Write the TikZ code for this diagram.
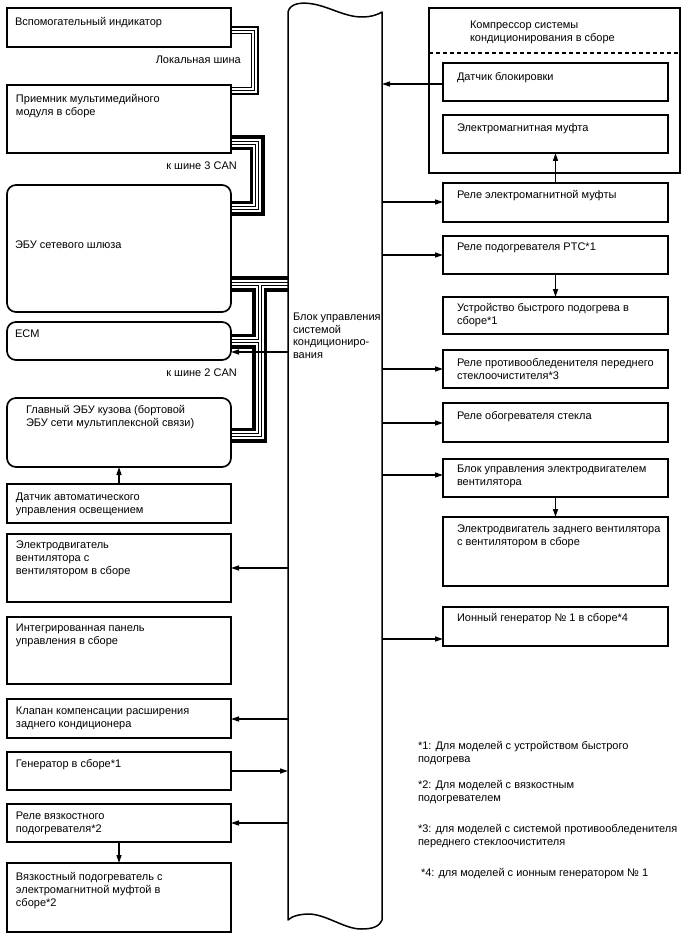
\documentclass[tikz,border=0pt]{standalone}
\usepackage{fontspec}
\setmainfont{Liberation Sans}
\usetikzlibrary{arrows.meta}
\pgfdeclarelayer{bg}
\pgfsetlayers{bg,main}
\tikzset{
  box/.style={draw, line width=1.7pt, rectangle, inner sep=0pt, outer sep=0pt},
  rbox/.style={box, rounded corners=9pt},
  txt/.style={anchor=north west, inner sep=0pt, outer sep=0pt, align=left, font=\fontsize{11}{13}\selectfont},
  lbl/.style={anchor=base east, inner sep=0pt, font=\fontsize{11}{13}\selectfont},
  arr/.style={line width=1.35pt, -{Triangle[length=8pt,width=5pt]}},
  wire/.style={line cap=butt, line join=miter},
}
\newcommand\Bx[6][box]{\node[#1, anchor=north west, minimum width={#4-#2}, minimum height={#5-#3}] (#6) at (#2,#3) {};}
\newcommand\cable[1]{%
  \draw[wire, line width=15pt, black] #1;
  \draw[wire, line width=8pt, white] #1;
  \draw[wire, line width=4pt, black] #1;
  \draw[wire, line width=2pt, white] #1;}
\begin{document}
\begin{tikzpicture}[x=1pt,y=-1pt]
\begin{pgfonlayer}{bg}
\fill[white] (0,0) rectangle (688,949);
\end{pgfonlayer}
\useasboundingbox (0,0) rectangle (688,949);

% ---- left column boxes
\Bx{7}{8}{231}{47}{aux}
\node[txt] (auxt) at (15,17) {Вспомогательный индикатор};
\node[lbl] (lloc) at (241,64) {Локальная шина};
\Bx{7}{85}{231}{153}{mm}
\node[txt] (mmt) at (16,94) {Приемник мультимедийного\\модуля в сборе};
\node[lbl] (lcan3) at (237,170) {к шине 3 CAN};
\Bx[rbox]{7}{185}{231}{312}{gw}
\node[txt] (gwt) at (15,241) {ЭБУ сетевого шлюза};
\Bx[rbox]{7}{322}{231}{360}{ecm}
\node[txt] (ecmt) at (15,330) {ECM};
\node[lbl] (lcan2) at (237,376) {к шине 2 CAN};
\Bx[rbox]{7}{398}{231}{467}{body}
\node[txt] (bodyt) at (26,405) {Главный ЭБУ кузова (бортовой\\ЭБУ сети мультиплексной связи)};
\Bx{7}{484}{231}{523}{light}
\node[txt] (lightt) at (16,493) {Датчик автоматического\\управления освещением};
\Bx{7}{534}{231}{602}{fan}
\node[txt] (fant) at (16,541) {Электродвигатель\\вентилятора с\\вентилятором в сборе};
\Bx{7}{617}{231}{684}{panel}
\node[txt] (panelt) at (16,624) {Интегрированная панель\\управления в сборе};
\Bx{7}{699}{231}{738}{valve}
\node[txt] (valvet) at (16,707) {Клапан компенсации расширения\\заднего кондиционера};
\Bx{7}{752}{231}{790}{gen}
\node[txt] (gent) at (16,759) {Генератор в сборе*1};
\Bx{7}{804}{231}{842}{vrel}
\node[txt] (vrelt) at (16,812) {Реле вязкостного\\подогревателя*2};
\Bx{7}{863}{231}{932}{vheat}
\node[txt] (vheatt) at (16,872) {Вязкостный подогреватель с\\электромагнитной муфтой в\\сборе*2};

% ---- central control unit
\node[inner sep=0pt, outer sep=0pt, anchor=north west, minimum width=94, minimum height=908] (ctrl) at (288,12) {};
\draw[line width=1.5pt, line join=round]
  (ctrl.south west) -- (ctrl.north west)
  .. controls (290,3) and (302,2) .. (313,4)
  .. controls (330,7) and (345,17) .. (362,17)
  .. controls (372,17) and (379,14) .. (ctrl.north east)
  -- (ctrl.south east)
  .. controls (379,927) and (372,929) .. (361,929)
  .. controls (345,929) and (327,915) .. (310,914)
  .. controls (300,914) and (292,916) .. (ctrl.south west) -- cycle;
\node[txt, font=\fontsize{11}{12.5}\selectfont] (ctrlt) at (293,313) {Блок управления\\системой\\кондициониро-\\вания};

% ---- right column
\Bx{429}{8}{680}{173}{comp}
\node[txt] (compt) at (470,21) {Компрессор системы\\кондиционирования в сборе};
\draw[line width=1.5pt, dash pattern=on 4pt off 3pt] (comp.west |- 0,53) -- (comp.east |- 0,53);
\Bx{443}{63}{668}{101}{lock}
\node[txt] (lockt) at (457,72) {Датчик блокировки};
\Bx{443}{115}{668}{153}{clutch}
\node[txt] (clutcht) at (457,124) {Электромагнитная муфта};
\Bx{443}{183}{668}{222}{ra}
\node[txt] (rat) at (457,190) {Реле электромагнитной муфты};
\Bx{443}{236}{668}{274}{rb}
\node[txt] (rbt) at (457,243) {Реле подогревателя PTC*1};
\Bx{443}{297}{668}{334}{rc}
\node[txt] (rct) at (457,303) {Устройство быстрого подогрева в\\сборе*1};
\Bx{443}{350}{668}{388}{rd}
\node[txt] (rdt) at (457,358) {Реле противообледенителя переднего\\стеклоочистителя*3};
\Bx{443}{403}{668}{442}{re}
\node[txt] (ret) at (457,411) {Реле обогревателя стекла};
\Bx{443}{459}{668}{497}{rf}
\node[txt] (rft) at (457,465) {Блок управления электродвигателем\\вентилятора};
\Bx{443}{517}{668}{586}{rg}
\node[txt] (rgt) at (457,525) {Электродвигатель заднего вентилятора\\с вентилятором в сборе};
\Bx{443}{607}{668}{646}{rh}
\node[txt] (rht) at (457,613) {Ионный генератор № 1 в сборе*4};

% ---- footnotes
\node[txt] (fn1) at (418,741) {*1: Для моделей с устройством быстрого\\подогрева};
\node[txt] (fn2) at (418,780) {*2: Для моделей с вязкостным\\подогревателем};
\node[txt] (fn3) at (418,824) {*3: для моделей с системой противообледенителя\\переднего стеклоочистителя};
\node[txt] (fn4) at (421,868) {*4: для моделей с ионным генератором № 1};

% ---- buses (background layer)
\begin{pgfonlayer}{bg}
\draw[wire, line width=2.5pt] (aux.east |- 0,27) -- (258,27) -- (258,94) -- (mm.east |- 0,94);
\draw[wire, line width=0.9pt] (aux.east |- 0,30.5) -- (254.5,30.5) -- (254.5,90.5) -- (mm.east |- 0,90.5);
\draw[wire, line width=0.9pt] (aux.east |- 0,33.5) -- (251.5,33.5) -- (251.5,87.5) -- (mm.east |- 0,87.5);
\cable{(mm.east |- 0,143) -- (257,143) -- (257,208.5) -- (gw.east |- 0,208.5)}
\coordinate (tj) at (259.5,284);
\coordinate (tk) at (259.5,341);
\cable{(gw.east |- 0,284) -- (ctrl.west |- 0,284) (tj) -- (259.5,435) -- (body.east |- 0,435) (tk) -- (ecm.east |- 0,341)}
\end{pgfonlayer}

% ---- arrows
\draw[arr] (ctrl.west |- 0,352) -- (ecm.east |- 0,352);
\draw[arr] (light.north) -- (body.south);
\draw[arr] (ctrl.west |- fan.east) -- (fan.east);
\draw[arr] (ctrl.west |- 0,719) -- (valve.east |- 0,719);
\draw[arr] (gen.east) -- (ctrl.west |- gen.east);
\draw[arr] (ctrl.west |- vrel.east) -- (vrel.east);
\draw[arr] (vrel.south) -- (vheat.north);

\draw[arr] (lock.west |- 0,84) -- (ctrl.east |- 0,84);
\draw[arr] (ra.north) -- (clutch.south);
\draw[arr] (ctrl.east |- 0,202) -- (ra.west |- 0,202);
\draw[arr] (ctrl.east |- rb.west) -- (rb.west);
\draw[arr] (rb.south) -- (rc.north);
\draw[arr] (ctrl.east |- rd.west) -- (rd.west);
\draw[arr] (ctrl.east |- 0,423) -- (re.west |- 0,423);
\draw[arr] (ctrl.east |- 0,475) -- (rf.west |- 0,475);
\draw[arr] (rf.south) -- (rg.north);
\draw[arr] (ctrl.east |- 0,639) -- (rh.west |- 0,639);
\end{tikzpicture}
\end{document}
